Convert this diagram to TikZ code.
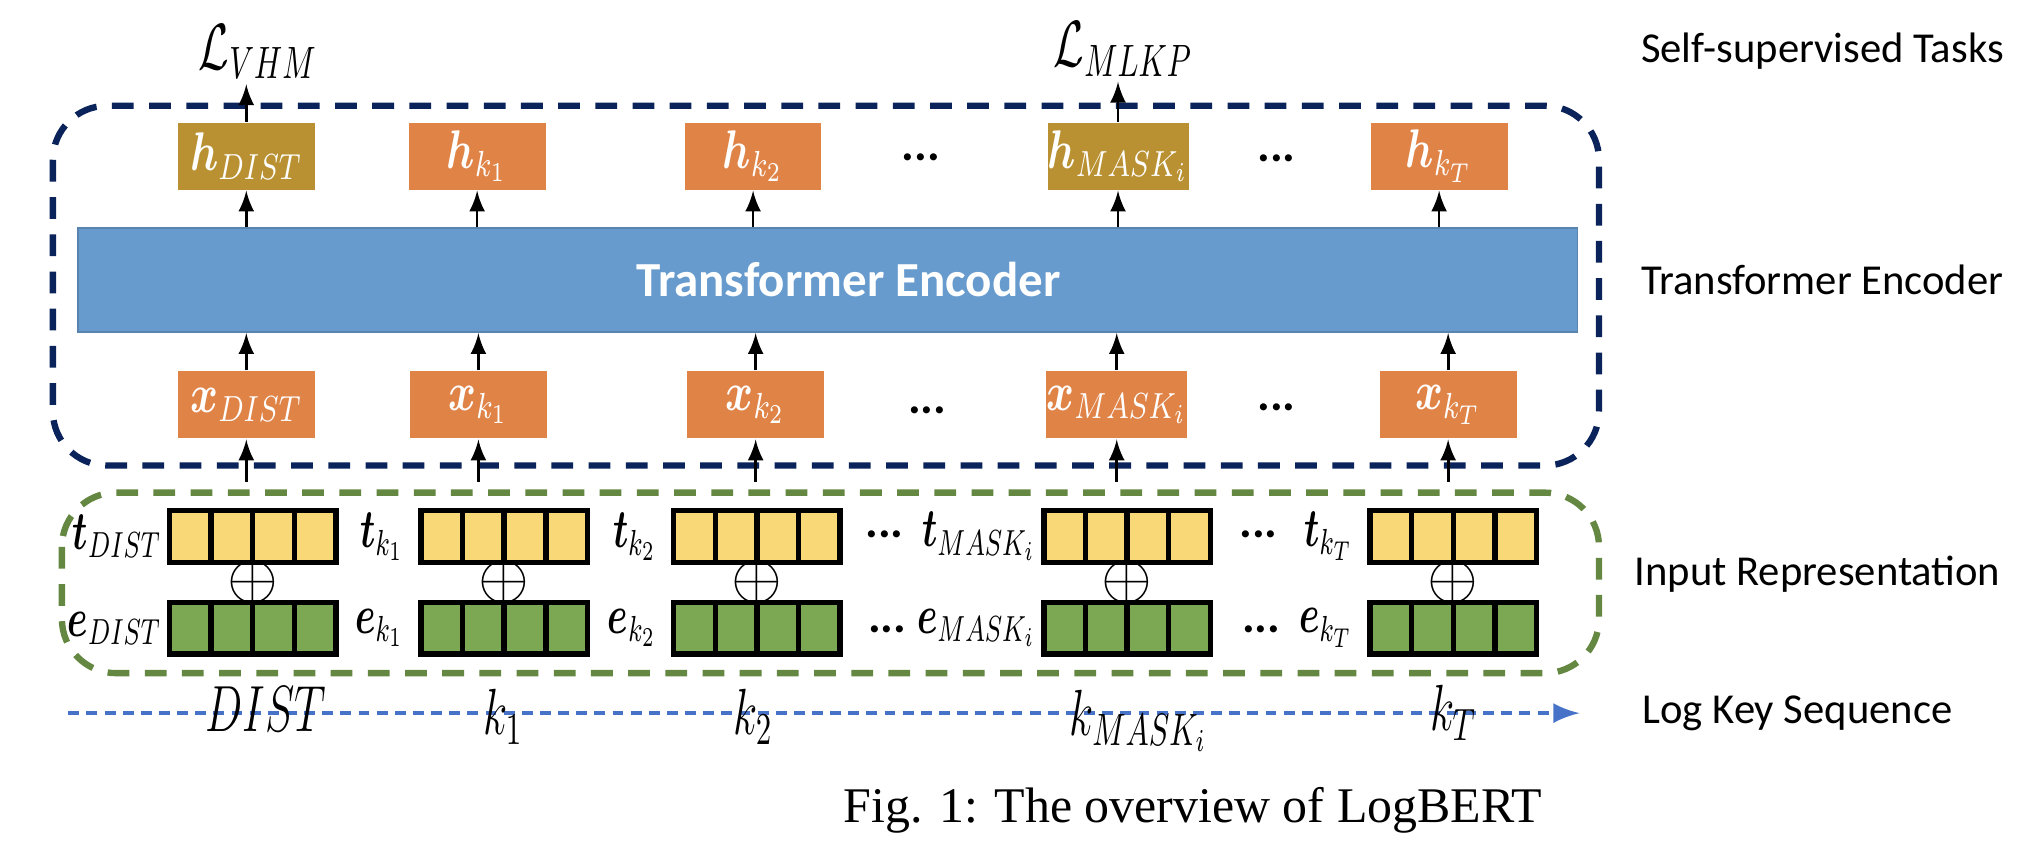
\documentclass[tikz,border=0pt]{standalone}
\usepackage{amsmath}
\usepackage{amssymb}
\usepackage{graphicx}
\usepackage{fontspec}
\newfontfamily\calfont{Carlito}
\newfontfamily\capfont{Liberation Serif}
\usetikzlibrary{arrows,positioning,calc}
\usepackage{xcolor}
\definecolor{orangebox}{RGB}{224,131,71}
\definecolor{mustard}{RGB}{185,145,50}
\definecolor{encblue}{RGB}{103,155,206}
\definecolor{yellowvec}{RGB}{249,216,120}
\definecolor{greenvec}{RGB}{125,168,83}
\definecolor{navyframe}{RGB}{10,35,90}
\definecolor{greenframe}{RGB}{100,135,65}
\definecolor{seqblue}{RGB}{70,115,200}
% narrow math, closer to the look of the original symbols
\newcommand{\nm}[2][0.78]{\scalebox{#1}[1]{$#2$}}

\begin{document}
\begin{tikzpicture}[x=0.01cm, y=-0.01cm,
    hbox/.style={rectangle, fill=orangebox, text=white, minimum width=1.06cm, minimum height=0.52cm, inner sep=0pt, font=\large},
    distbox/.style={hbox, fill=mustard},
    vecbox/.style={rectangle, draw, line width=1.2pt, minimum width=1.29cm, minimum height=0.4cm, inner sep=0pt,
        path picture={\foreach \i in {1,2,3}
            \draw[line width=1.2pt] ($(path picture bounding box.north west)!\i/4!(path picture bounding box.north east)$) -- ($(path picture bounding box.south west)!\i/4!(path picture bounding box.south east)$);}},
    tvec/.style={vecbox, fill=yellowvec},
    evec/.style={vecbox, fill=greenvec},
    veclabel/.style={font=\large, inner sep=1pt},
    dots/.style={font=\calfont\bfseries\fontsize{10.5}{12}\selectfont, inner sep=0pt},
    seqlabel/.style={font=\Large},
    sidelabel/.style={anchor=west, inner sep=0pt, font=\calfont\fontsize{9.4}{11}\selectfont},
    arrow/.style={-latex, semithick},
    frame/.style={line width=1.4pt, dash pattern=on 4.8pt off 3.4pt, rounded corners=0.42cm}
]
    \useasboundingbox (0,0) rectangle (1568,653);

    % Frames
    \draw[frame, navyframe] (41,82) rectangle (1240,361);
    \draw[frame, greenframe] (48,382) rectangle (1240,522);

    % Transformer encoder
    \node[rectangle, fill=encblue, draw=encblue!85!black, minimum width=11.62cm, minimum height=0.81cm] (enc) at (642,217) {};
    \node[text=white, font=\calfont\bfseries\fontsize{10.8}{13}\selectfont] (enctext) at (658,217) {Transformer Encoder};

    % Output vectors
    \node[distbox] (hD) at (191,121) {\nm{\boldsymbol{h}_{DIST}}};
    \node[hbox] (hk1) at (370,121) {\nm{\boldsymbol{h}_{k_1}}};
    \node[hbox] (hk2) at (584,121) {\nm{\boldsymbol{h}_{k_2}}};
    \node[distbox] (hM) at (867,121) {\nm{\boldsymbol{h}_{MASK_i}}};
    \node[hbox] (hkT) at (1116,121) {\nm{\boldsymbol{h}_{k_T}}};
    \node[dots] (hdots1) at (714,122) {...};
    \node[dots] (hdots2) at (990,123) {...};

    % Input vectors
    \node[hbox] (xD) at (191,314) {\nm{\boldsymbol{x}_{DIST}}};
    \node[hbox] (xk1) at (371,314) {\nm{\boldsymbol{x}_{k_1}}};
    \node[hbox] (xk2) at (586,314) {\nm{\boldsymbol{x}_{k_2}}};
    \node[hbox] (xM) at (866,314) {\nm{\boldsymbol{x}_{MASK_i}}};
    \node[hbox] (xkT) at (1123,314) {\nm{\boldsymbol{x}_{k_T}}};
    \node[dots] (xdots1) at (719,318) {...};
    \node[dots] (xdots2) at (990,316) {...};

    % Losses
    \node[font=\Large, inner sep=1pt] (lossV) at (200,40) {\nm[0.68]{\mathcal{L}_{VHM}}};
    \node[font=\Large, inner sep=1pt] (lossM) at (871,38) {\nm[0.68]{\mathcal{L}_{MLKP}}};
    \draw[arrow] (hD.north) -- (hD.north |- lossV.south);
    \draw[arrow] (hM.north) -- (hM.north |- lossM.south);

    % Encoder arrows
    \foreach \n in {hD,hk1,hk2,hM,hkT}
        \draw[arrow] (enc.north -| \n.south) -- (\n.south);
    \foreach \n in {xD,xk1,xk2,xM,xkT}
        \draw[arrow] (\n.north) -- (\n.north |- enc.south);
    \foreach \n in {xD,xk1,xk2,xM,xkT}
        \draw[arrow] ($(\n.south)+(0,-0.33cm)$) -- (\n.south);

    % Token and position embeddings
    \node[tvec] (tD) at (196,416) {};
    \node[tvec] (tk1) at (391,416) {};
    \node[tvec] (tk2) at (587,416) {};
    \node[tvec] (tM) at (874,416) {};
    \node[tvec] (tkT) at (1127,416) {};
    \node[evec] (eD) at (196,487) {};
    \node[evec] (ek1) at (391,487) {};
    \node[evec] (ek2) at (587,487) {};
    \node[evec] (eM) at (874,487) {};
    \node[evec] (ekT) at (1127,487) {};

    \node[veclabel, left=0pt of tD] (tDlab) {\nm[0.68]{\boldsymbol{t}_{DIST}}};
    \node[veclabel, left=2pt of tk1] (tk1lab) {\nm[0.68]{\boldsymbol{t}_{k_1}}};
    \node[veclabel, left=2pt of tk2] (tk2lab) {\nm[0.68]{\boldsymbol{t}_{k_2}}};
    \node[veclabel, left=0pt of tM] (tMlab) {\nm[0.68]{\boldsymbol{t}_{MASK_i}}};
    \node[veclabel, left=2pt of tkT] (tkTlab) {\nm[0.68]{\boldsymbol{t}_{k_T}}};
    \node[veclabel, left=0pt of eD] (eDlab) {\nm[0.68]{\boldsymbol{e}_{DIST}}};
    \node[veclabel, left=2pt of ek1] (ek1lab) {\nm[0.68]{\boldsymbol{e}_{k_1}}};
    \node[veclabel, left=2pt of ek2] (ek2lab) {\nm[0.68]{\boldsymbol{e}_{k_2}}};
    \node[veclabel, left=0pt of eM] (eMlab) {\nm[0.68]{\boldsymbol{e}_{MASK_i}}};
    \node[veclabel, left=2pt of ekT] (ekTlab) {\nm[0.68]{\boldsymbol{e}_{k_T}}};

    \node[dots] (tdots1) at (686,414) {...};
    \node[dots] (tdots2) at (976,414) {...};
    \node[dots] (edots1) at (688,488) {...};
    \node[dots] (edots2) at (978,488) {...};

    \foreach \n in {D,k1,k2,M,kT}
        \node[font=\Large, inner sep=0pt] (p\n) at ($(t\n.south)!0.5!(e\n.north)$) {$\oplus$};

    % Log key sequence
    \coordinate (seqstart) at (53,553);
    \coordinate (seqend) at (1225,553);
    \draw[seqblue, -latex, line width=1pt, dash pattern=on 2.4pt off 1.6pt] (seqstart) -- (seqend);
    \node[seqlabel] (sD) at (206,550) {\nm[0.68]{DIST}};
    \node[seqlabel] (sk1) at (390,556) {\nm[0.68]{k_1}};
    \node[seqlabel] (sk2) at (584,556) {\nm[0.68]{k_2}};
    \node[seqlabel] (sM) at (883,559) {\nm[0.68]{k_{MASK_i}}};
    \node[seqlabel] (skT) at (1127,553) {\nm[0.68]{k_T}};

    % Side labels
    \node[sidelabel] (lblTasks) at (1272,40) {Self-supervised Tasks};
    \node[sidelabel] (lblEnc) at (1272,217) {Transformer Encoder};
    \node[sidelabel] (lblInput) at (1267,445) {Input Representation};
    \node[sidelabel] (lblSeq) at (1273,553) {Log Key Sequence};

    % Caption
    \node[font=\capfont\fontsize{11}{13}\selectfont] (caption) at (925,628) {Fig. 1: The overview of LogBERT};
\end{tikzpicture}
\end{document}
